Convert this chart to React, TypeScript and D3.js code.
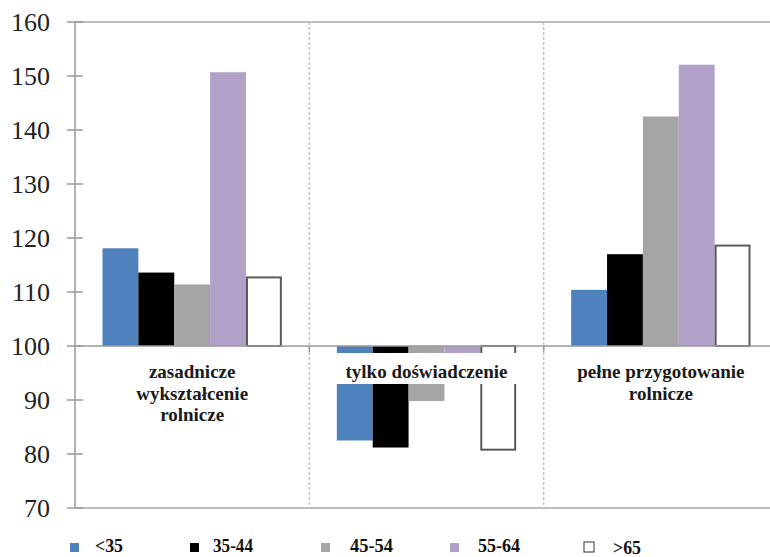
import React from "react";
import * as d3 from "d3";

const categories = [
  ["zasadnicze", "wykształcenie", "rolnicze"],
  ["tylko doświadczenie"],
  ["pełne przygotowanie", "rolnicze"],
];
const seriesNames = ["<35", "35-44", "45-54", "55-64", ">65"];
const seriesColors = ["#4f81bd", "#000000", "#a5a5a5", "#b1a0c7", "#ffffff"];
const valsLt35 = [118.1, 82.5, 110.4];
const vals35_44 = [113.6, 81.2, 117.0];
const vals45_54 = [111.4, 89.8, 142.5];
const vals55_64 = [150.7, 96.0, 152.1];
const valsGt65 = [112.7, 80.8, 118.6];
const seriesValues = [valsLt35, vals35_44, vals45_54, vals55_64, valsGt65];
const yTicks = [70, 80, 90, 100, 110, 120, 130, 140, 150, 160];

const W = 770;
const H = 557;
const SERIF = "Liberation Serif";

const left = 75, right = 778, top = 22, bottom = 508;
const y = d3.scaleLinear().domain([70, 160]).range([bottom, top]);
const gIdx = categories.map((_, i) => String(i));
const x0 = d3.scaleBand().domain(gIdx).range([left, right]).padding(0);
const bw = x0.bandwidth();
const x1 = d3.scaleBand().domain(seriesNames).range([27.5, bw - 27.5]).padding(0);

const legX = [70, 190, 321, 450, 584];
const legTX = [95, 213, 350, 478, 613];
const legLen = [28, 40, 43, 42, 28];

export default function App() {
  const y100 = y(100);
  return (
    <svg
      width={W}
      height={H}
      style={{ position: "absolute", left: 0, top: 0, background: "#fff", overflow: "hidden" }}
    >
      {gIdx.slice(1).map((g) => (
        <line key={"sep" + g} x1={x0(g)} x2={x0(g)} y1={top} y2={bottom}
          stroke="#c4c4c4" strokeWidth={1.5} strokeDasharray="3,2" />
      ))}
      {[160, 70].map((v) => (
        <line key={"b" + v} x1={left} x2={W} y1={y(v)} y2={y(v)} stroke="#bdbdbd" strokeWidth={2} />
      ))}
      {seriesNames.map((s, si) =>
        seriesValues[si].map((v, gi) => {
          const xx = x0(String(gi))! + x1(s)!;
          const yv = y(v);
          const isWhite = si === 4;
          return (
            <rect key={s + gi}
              x={xx + (isWhite ? 1 : 0)}
              width={x1.bandwidth() - (isWhite ? 2 : 0)}
              y={Math.min(y100, yv)}
              height={Math.abs(yv - y100)}
              fill={seriesColors[si]}
              stroke={isWhite ? "#5a5a5a" : "none"}
              strokeWidth={isWhite ? 2 : 0} />
          );
        })
      )}
      <line x1={left} x2={W} y1={y100} y2={y100} stroke="#9a9a9a" strokeWidth={1.5} />
      {gIdx.slice(1).map((g) => (
        <line key={"ct" + g} x1={x0(g)} x2={x0(g)} y1={y100} y2={y100 + 6} stroke="#9a9a9a" strokeWidth={1.5} />
      ))}
      <line x1={left} x2={left} y1={top} y2={bottom} stroke="#9a9a9a" strokeWidth={1.5} />
      {yTicks.map((t) => (
        <g key={"t" + t}>
          <line x1={left - 8} x2={left + 8} y1={y(t)} y2={y(t)} stroke="#9a9a9a" strokeWidth={1.5} />
          <text x={50} y={y(t)} dy="0.35em" textAnchor="end"
            style={{ fontFamily: SERIF, fontSize: "26px" }} fill="#222">{t}</text>
        </g>
      ))}
      {categories.map((lines, gi) => {
        const cx = x0(String(gi))! + bw / 2;
        return (
          <g key={"c" + gi}>
            <rect x={x0(String(gi))! + 25} width={bw - 50} y={353} height={31} fill="#fff" />
            <text textAnchor="middle" fill="#1a1a1a"
              style={{ fontFamily: SERIF, fontWeight: "bold", fontSize: "19px" }}>
              {lines.map((l, li) => (
                <tspan key={li} x={cx} y={378 + li * 21.7}>{l}</tspan>
              ))}
            </text>
          </g>
        );
      })}
      {seriesNames.map((s, i) => {
        const isWhite = i === 4;
        return (
          <g key={"l" + s}>
            <rect x={legX[i]} y={isWhite ? 542 : 543}
              width={isWhite ? 10 : 9} height={isWhite ? 10 : 9}
              fill={seriesColors[i]} stroke={isWhite ? "#333" : "none"} strokeWidth={1} />
            <text x={legTX[i]} y={isWhite ? 554 : 552}
              textLength={legLen[i]} lengthAdjust="spacingAndGlyphs" fill="#111"
              style={{ fontFamily: SERIF, fontWeight: "bold", fontSize: "18px" }}>{s}</text>
          </g>
        );
      })}
    </svg>
  );
}
